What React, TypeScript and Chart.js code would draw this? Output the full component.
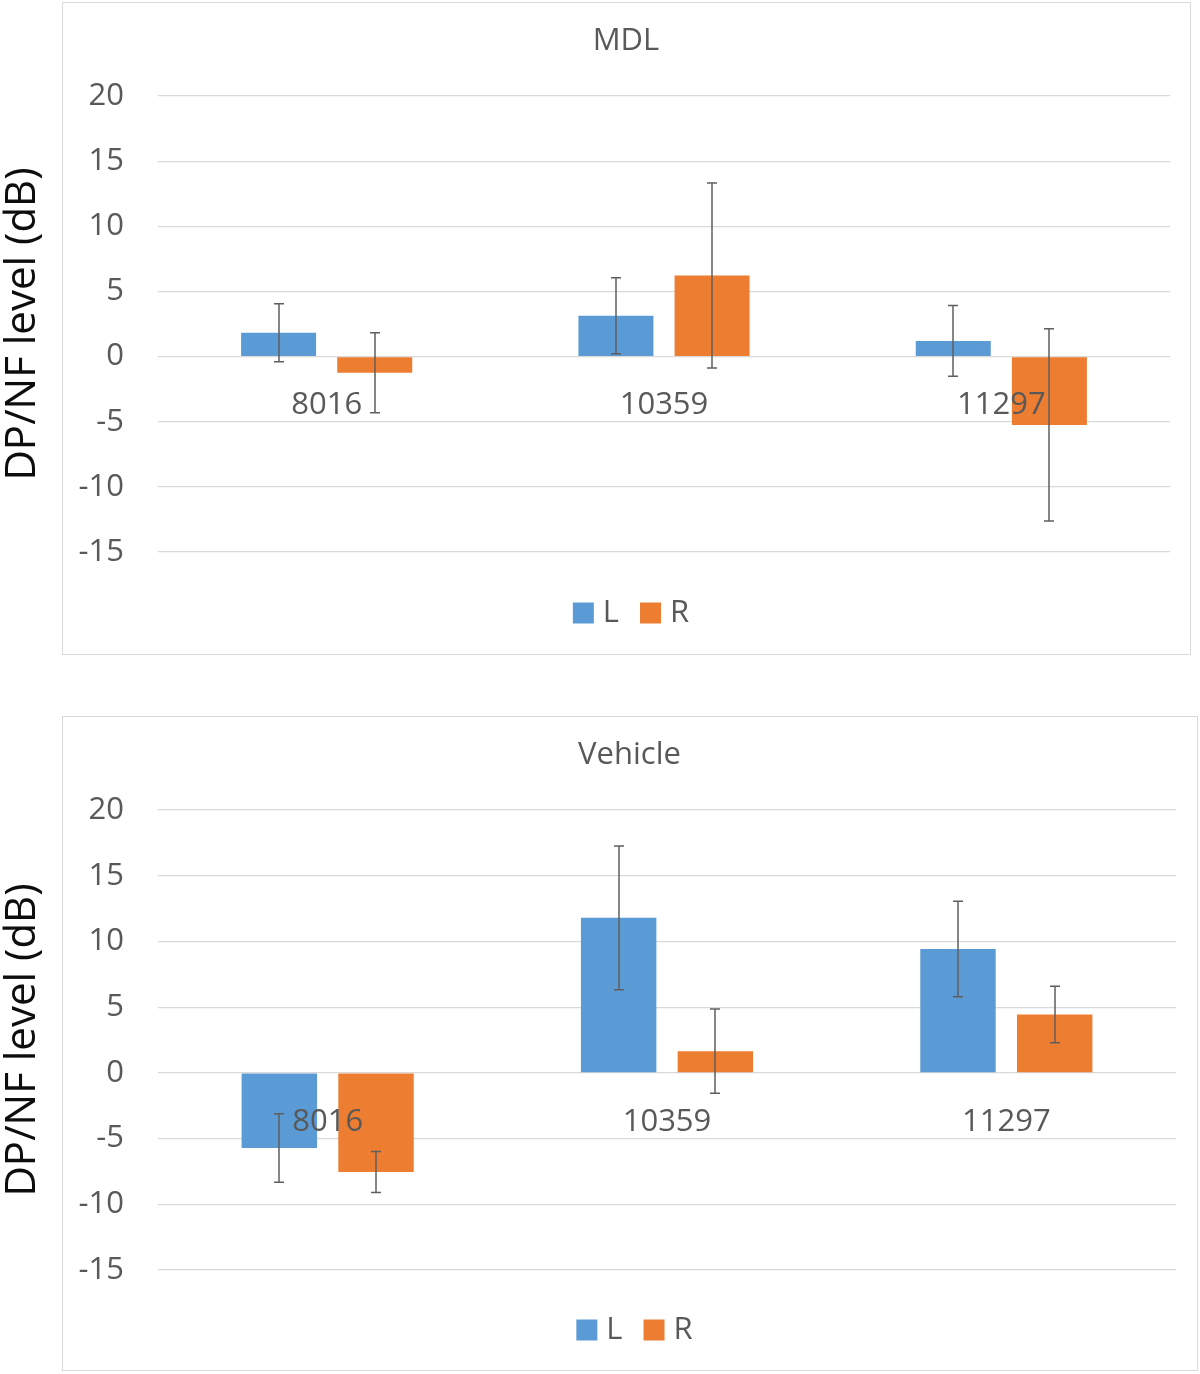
import React, { useEffect, useRef } from "react";
import { Chart, registerables } from "chart.js";

Chart.register(...registerables);

// ---------- data ----------
const categories = ["8016", "10359", "11297"];
const seriesNames = ["L", "R"];
const seriesColors = ["#5B9BD5", "#ED7D31"];

const mdlL = [1.83, 3.13, 1.2];
const mdlLErr = [2.22, 2.92, 2.72];
const mdlR = [-1.25, 6.22, -5.25];
const mdlRErr = [3.07, 7.1, 7.38];

const vehL = [-5.72, 11.8, 9.42];
const vehLErr = [2.6, 5.47, 3.63];
const vehR = [-7.55, 1.65, 4.44];
const vehRErr = [1.56, 3.2, 2.15];

const yMin = -15;
const yMax = 20;
const yStep = 5;
const yTitle = "DP/NF level (dB)";
const titles = ["MDL", "Vehicle"];

// ---------- style ----------
const FONT = "'Open Sans', 'Noto Sans', sans-serif";
const TEXT = "#595959";

const decorPlugin = {
  id: "decor",
  beforeDraw(chart: any, _args: any, opts: any) {
    const ctx = chart.ctx;
    const f = opts.frame;
    ctx.save();
    ctx.fillStyle = "#ffffff";
    ctx.fillRect(0, 0, chart.width, chart.height);
    ctx.strokeStyle = "#d9d9d9";
    ctx.lineWidth = 1;
    ctx.strokeRect(f.left + 0.5, f.top + 0.5, f.right - f.left, f.bottom - f.top);
    ctx.font = `31px ${FONT}`;
    ctx.fillStyle = TEXT;
    ctx.textAlign = "center";
    ctx.textBaseline = "middle";
    ctx.fillText(opts.title, (f.left + f.right) / 2, opts.titleY);
    ctx.restore();
  },
  afterDatasetsDraw(chart: any, _args: any, opts: any) {
    const ctx = chart.ctx;
    const ys = chart.scales.y;
    const xs = chart.scales.x;
    const f = opts.frame;
    ctx.save();
    // category labels next to the zero line
    ctx.font = `31px ${FONT}`;
    ctx.fillStyle = TEXT;
    ctx.textAlign = "center";
    ctx.textBaseline = "middle";
    const zero = ys.getPixelForValue(0);
    (chart.data.labels as string[]).forEach((lab, i) => {
      ctx.fillText(lab, xs.getPixelForValue(i), zero + opts.catOffset);
    });
    // error bars
    ctx.strokeStyle = "#5f5f5f";
    ctx.lineWidth = 1.5;
    chart.data.datasets.forEach((ds: any, di: number) => {
      const meta = chart.getDatasetMeta(di);
      meta.data.forEach((bar: any, i: number) => {
        const v = ds.data[i];
        const e = ds.errors[i];
        const t = ys.getPixelForValue(v + e);
        const b = ys.getPixelForValue(v - e);
        const cx = Math.round(bar.x);
        ctx.beginPath();
        ctx.moveTo(cx, t);
        ctx.lineTo(cx, b);
        ctx.moveTo(cx - 5, t);
        ctx.lineTo(cx + 5, t);
        ctx.moveTo(cx - 5, b);
        ctx.lineTo(cx + 5, b);
        ctx.stroke();
      });
    });
    // legend
    ctx.font = `31px ${FONT}`;
    ctx.textAlign = "left";
    const box = 21;
    const gapText = 9;
    const gapItem = 21;
    const items = chart.data.datasets.map((ds: any) => ({
      label: ds.label,
      color: ds.backgroundColor,
      w: box + gapText + ctx.measureText(ds.label).width,
    }));
    const total = items.reduce((s: number, it: any) => s + it.w, 0) + gapItem * (items.length - 1);
    let x = (f.left + f.right) / 2 + 5 - total / 2;
    const ly = opts.legendY;
    items.forEach((it: any) => {
      ctx.fillStyle = it.color;
      ctx.fillRect(x, ly - box / 2, box, box);
      ctx.fillStyle = TEXT;
      ctx.fillText(it.label, x + box + gapText, ly);
      x += it.w + gapItem;
    });
    ctx.restore();
  },
};

type PanelProps = {
  title: string;
  L: number[];
  LErr: number[];
  R: number[];
  RErr: number[];
  height: number;
  frame: { left: number; top: number; right: number; bottom: number };
  padding: { top: number; right: number; bottom: number };
  titleY: number;
  legendY: number;
};

function Panel(p: PanelProps) {
  const ref = useRef<HTMLCanvasElement | null>(null);
  useEffect(() => {
    if (!ref.current) return;
    const chart = new Chart(ref.current, {
      type: "bar",
      data: {
        labels: categories,
        datasets: [
          { label: seriesNames[0], data: p.L, errors: p.LErr, backgroundColor: seriesColors[0] } as any,
          { label: seriesNames[1], data: p.R, errors: p.RErr, backgroundColor: seriesColors[1] } as any,
        ],
      },
      plugins: [decorPlugin],
      options: {
        responsive: false,
        animation: false,
        devicePixelRatio: 1,
        layout: { padding: { left: 0, top: p.padding.top, right: p.padding.right, bottom: p.padding.bottom } },
        datasets: { bar: { categoryPercentage: 0.57, barPercentage: 0.78, borderWidth: 0 } },
        scales: {
          x: { display: false },
          y: {
            min: yMin,
            max: yMax,
            ticks: { stepSize: yStep, padding: 34, color: TEXT, font: { family: FONT, size: 31 } },
            grid: { color: "#d9d9d9", lineWidth: 1.2, drawTicks: false },
            border: { display: false },
            title: {
              display: true,
              text: yTitle,
              color: "#0d0d0d",
              font: { family: FONT, size: 42, lineHeight: 0.9 },
              padding: { top: 4, bottom: 0 },
            },
            afterFit: (scale: any) => {
              scale.width = 158;
            },
          },
        },
        plugins: {
          legend: { display: false },
          title: { display: false },
          tooltip: { enabled: false },
          decor: { frame: p.frame, title: p.title, titleY: p.titleY, legendY: p.legendY, catOffset: 49 },
        } as any,
      },
    });
    return () => chart.destroy();
  }, []);
  return <canvas ref={ref} width={1200} height={p.height} style={{ display: "block", width: 1200, height: p.height }} />;
}

export default function App() {
  useEffect(() => {
    document.body.style.margin = "0";
  }, []);
  return (
    <div style={{ width: 1200, background: "#fff" }}>
      <Panel
        title={titles[0]}
        L={mdlL}
        LErr={mdlLErr}
        R={mdlR}
        RErr={mdlRErr}
        height={680}
        frame={{ left: 62, top: 2, right: 1190, bottom: 654 }}
        padding={{ top: 96, right: 30, bottom: 128 }}
        titleY={41}
        legendY={613}
      />
      <Panel
        title={titles[1]}
        L={vehL}
        LErr={vehLErr}
        R={vehR}
        RErr={vehRErr}
        height={694}
        frame={{ left: 62, top: 36, right: 1197, bottom: 690 }}
        padding={{ top: 130, right: 24, bottom: 104 }}
        titleY={75}
        legendY={650}
      />
    </div>
  );
}
